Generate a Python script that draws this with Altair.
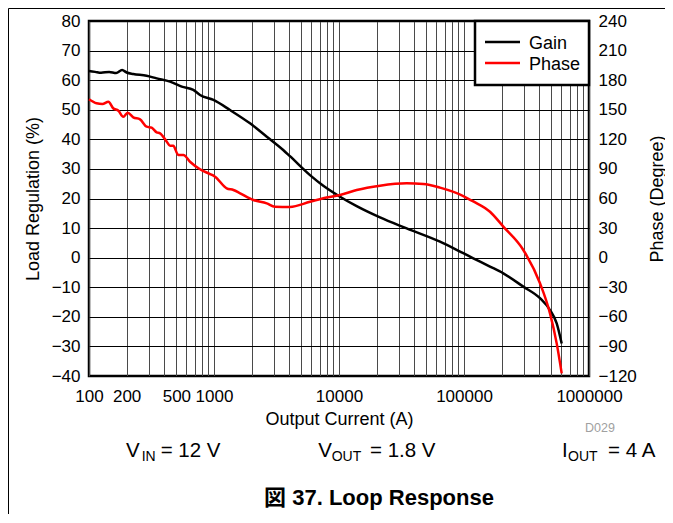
import altair as alt
import pandas as pd

# ---------------- data ----------------
gain_freq = [100, 112, 125, 145, 165, 184, 200, 226, 289, 348, 445, 552, 683, 773, 990,
             1343, 1941, 2644, 3577, 4050, 5861, 7490, 10190, 13850, 21280, 34800,
             64270, 98700, 118700, 161400, 206300, 298200, 405500, 487500, 551500, 604700]
gain_vals = [63.1, 62.8, 62.5, 62.8, 62.4, 63.4, 62.6, 62.1, 61.5, 60.6, 59.5, 57.8, 56.7, 55.0, 53.3,
             49.9, 45.4, 40.9, 36.4, 34.3, 27.9, 24.3, 20.6, 17.4, 13.6, 9.9,
             5.4, 1.5, -0.2, -3.0, -5.3, -9.8, -13.7, -17.7, -22.2, -29.0]

phase_freq = [100, 115, 128, 143, 156, 172, 188, 204, 226, 256, 289, 317, 348, 370, 419, 445, 472,
              518, 569, 643, 773, 929, 1019, 1263, 1430, 1618, 2066, 2644, 3069, 4050, 5861,
              7490, 10190, 13850, 21280, 34800, 47260, 64270, 98700, 118700, 161400, 206300,
              298200, 405500, 487500, 551500, 604700]
phase_vals = [160.6, 156.5, 155.8, 158.2, 151.5, 149.0, 142.9, 147.0, 142.3, 140.3, 132.8, 131.8,
              127.1, 126.1, 117.6, 113.5, 113.5, 104.1, 104.1, 97.3, 89.6, 84.8, 82.1, 70.3, 68.6,
              65.3, 58.5, 55.1, 51.7, 51.5, 56.7, 60.2, 63.5, 68.6, 73.0, 75.4, 74.7, 71.0, 62.5,
              57.0, 46.6, 31.5, 7.8, -26.0, -56.5, -86.9, -117.3]

series_names = ["Gain", "Phase"]
series_colors = ["#000000", "#ff0000"]

x_label_values = [100, 200, 500, 1000, 10000, 100000, 1000000]
x_grid_values = [m * 10 ** e for e in range(2, 6) for m in range(1, 10)] + [1000000]
left_ticks = list(range(-40, 81, 10))
right_ticks = list(range(-120, 241, 30))

x_title = "Output Current (A)"
left_title = "Load Regulation (%)"
right_title = "Phase (Degree)"
note_main = ["V", "V", "I"]
note_sub = ["IN", "OUT", "OUT"]
note_rest = ["= 12 V", "= 1.8 V", "= 4 A"]
code_label = "D029"
fig_title = "図 37. Loop Response"

FONT = "Liberation Sans, Arial, Noto Sans CJK JP"
W, H = 500, 355

gain_df = pd.DataFrame({"freq": gain_freq, "val": gain_vals})
phase_df = pd.DataFrame({"freq": phase_freq, "val": phase_vals})

label_list = ",".join(str(v) for v in x_label_values)
x_enc = alt.X(
    "freq:Q",
    scale=alt.Scale(type="log", domain=[100, 1000000], nice=False),
    axis=alt.Axis(
        values=x_grid_values, format="d",
        labelExpr=f"indexof([{label_list}], datum.value) >= 0 ? datum.label : ''",
        title=x_title, grid=True, gridColor="#4a4a4a", gridWidth=1,
        ticks=False, domain=False, labelFlush=False, labelOverlap=False,
        labelPadding=12, labelFontSize=17, labelColor="black", labelFont=FONT,
        titleFontSize=18, titleFontWeight="normal", titleFont=FONT, titleColor="black",
        titleX=W / 2, titleY=48, titleBaseline="alphabetic", titleAlign="center",
    ),
)

gain_line = alt.Chart(gain_df).mark_line(
    color=series_colors[0], strokeWidth=2.5, interpolate="monotone"
).encode(
    x=x_enc,
    y=alt.Y(
        "val:Q",
        scale=alt.Scale(domain=[-40, 80], nice=False, zero=False),
        axis=alt.Axis(
            values=left_ticks, title=left_title, grid=True, gridColor="black", gridWidth=1,
            ticks=False, domain=False, labelPadding=9, labelFontSize=17, labelColor="black",
            labelFont=FONT, titleFont=FONT, titleFontSize=18, titleFontWeight="normal",
            titleColor="black", titleAngle=-90, titleX=-51, titleY=H / 2,
            titleBaseline="alphabetic", titleAlign="center",
        ),
    ),
)

phase_line = alt.Chart(phase_df).mark_line(
    color=series_colors[1], strokeWidth=2.5, interpolate="monotone"
).encode(
    x=x_enc,
    y=alt.Y(
        "val:Q",
        scale=alt.Scale(domain=[-120, 240], nice=False, zero=False),
        axis=alt.Axis(
            orient="right", values=right_ticks, title=right_title, grid=False,
            ticks=False, domain=False, labelPadding=9, labelFontSize=17, labelColor="black",
            labelFont=FONT, titleFont=FONT, titleFontSize=18, titleFontWeight="normal",
            titleColor="black", titleAngle=-90, titleX=73, titleY=H / 2,
            titleBaseline="alphabetic", titleAlign="center",
        ),
    ),
)

one = pd.DataFrame({"k": [0]})


def text_at(txt, x, y, size, color="black", weight="normal", align="left"):
    return alt.Chart(pd.DataFrame({"t": [txt]})).mark_text(
        font=FONT, fontSize=size, color=color, fontWeight=weight, align=align,
        baseline="alphabetic",
    ).encode(text="t:N", x=alt.value(x), y=alt.value(y))


# legend box
legend_box = alt.Chart(one).mark_rect(fill="white", stroke="black", strokeWidth=2.5).encode(
    x=alt.value(386), x2=alt.value(500), y=alt.value(0), y2=alt.value(64)
)
legend_layers = [legend_box]
for i, (name, col) in enumerate(zip(series_names, series_colors)):
    yy = 21 + i * 21
    legend_layers.append(
        alt.Chart(pd.DataFrame({"s": [name]})).mark_rule(color=col, strokeWidth=2.5).encode(
            x=alt.value(396), x2=alt.value(431), y=alt.value(yy)
        )
    )
    legend_layers.append(text_at(name, 440, yy + 7, 18))

# annotations below
notes = []
main_x = [37, 229.3, 473]
sub_x = [52.7, 242.7, 479]
rest_x = [71.7, 281, 519]
for m, s, r, mx, sx, rx in zip(note_main, note_sub, note_rest, main_x, sub_x, rest_x):
    notes.append(text_at(m, mx, 436.3, 20.5))
    notes.append(text_at(s, sx, 439.7, 14))
    notes.append(text_at(r, rx, 436.3, 20.5))
notes.append(text_at(code_label, 496, 411.3, 12.5, color="#a0a0a0"))
notes.append(text_at(fig_title, 290, 484, 22, weight="bold", align="center"))

# page frame (left and top lines)
frame_left = alt.Chart(one).mark_rule(color="black", strokeWidth=1).encode(
    x=alt.value(-80.5), y=alt.value(-12.5), y2=alt.value(510)
)
frame_top = alt.Chart(one).mark_rule(color="black", strokeWidth=1).encode(
    x=alt.value(-80.5), x2=alt.value(600), y=alt.value(-12.5)
)

chart = alt.layer(
    gain_line, phase_line, *legend_layers, *notes, frame_left, frame_top
).resolve_scale(y="independent").properties(
    width=W, height=H, autosize="none",
    padding={"left": 81, "top": 13, "right": 76, "bottom": 138},
    background="white",
).configure_view(stroke="black", strokeWidth=2.5)

chart.save("out.html", embed_options={"renderer": "svg", "actions": False})
